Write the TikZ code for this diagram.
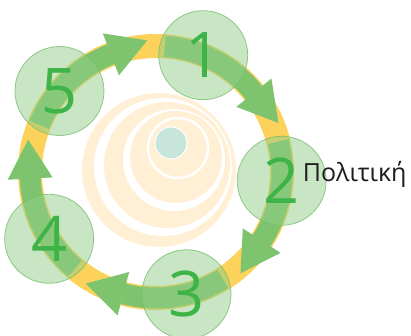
\documentclass[tikz,border=0pt]{standalone}
\usepackage{fontspec}
\setmainfont{Open Sans}
\usetikzlibrary{arrows.meta}
\definecolor{ringyellow}{RGB}{253,210,90}
\definecolor{arrowgreen}{RGB}{126,196,111}
\definecolor{discgreen}{RGB}{145,205,135}
\definecolor{rimgreen}{RGB}{120,190,110}
\definecolor{digitgreen}{RGB}{62,180,72}
\definecolor{peach}{RGB}{255,239,212}
\definecolor{coreteal}{RGB}{200,229,220}
\tikzset{
  stepdisc/.style={circle, minimum size=89pt, inner sep=0pt, fill=discgreen, fill opacity=0.5, draw=rimgreen, draw opacity=0.8, line width=0.8pt, text=digitgreen, text opacity=1, font=\fontsize{63}{63}\selectfont},
  cyclearr/.style={draw=arrowgreen, line width=21pt, -{Triangle[length=39pt,width=45pt,line width=0pt]}}
}

\begin{document}
\begin{tikzpicture}[x=1pt,y=1pt]
\useasboundingbox (-156,-164) rectangle (255,172);
\coordinate (o) at (0,0);
% spiral in the middle
\fill[peach] (3,2) circle[radius=77];
\fill[white] (7,5) circle[radius=69];
\fill[peach] (11,7) circle[radius=63];
\fill[white] (18,12) circle[radius=51];
\fill[peach] (20,15) circle[radius=46];
\draw[white, line width=2.5pt] (22,24) circle[radius=30];
\node[circle, fill=coreteal, draw=white, line width=1pt, minimum size=32pt, inner sep=0pt] (core) at (15,29) {};
% ring and arrows
\draw[ringyellow, line width=24pt] (o) circle[radius=126];
\foreach \a in {140,68,-4,-76,-148}{
  \draw[cyclearr] ([shift={(\a+18:126)}]o) arc[start angle=\a+18, end angle=\a-29, radius=126] -- ++(\a-119:39);
}
% steps
\node[stepdisc] (c1) at (68:126) {1};
\node[stepdisc] (c2) at (-4:126) {2};
\node[stepdisc] (c3) at (-76:126) {3};
\node[stepdisc] (c4) at (-148:126) {4};
\node[stepdisc] (c5) at (140:126) {5};
\node[anchor=base west, inner sep=0pt, text={rgb,255:red,30;green,30;blue,30}, font=\fontsize{25}{25}\selectfont] (policy) at ([xshift=21pt,yshift=-1pt]c2.center) {Πολιτική};
\end{tikzpicture}
\end{document}
